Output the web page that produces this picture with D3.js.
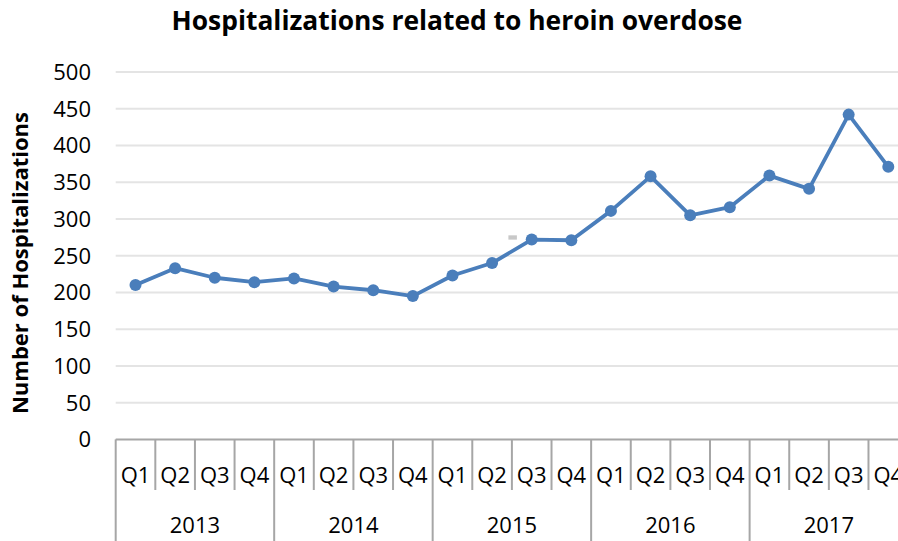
<!DOCTYPE html>
<html>
<head>
  <meta charset="utf-8">
  <title>Heroin overdose hospitalizations</title>
  <script src="https://cdn.jsdelivr.net/npm/d3@7"></script>
  <style>
    body { margin: 0; background: #fff; }
    svg { display: block; font-family: "Open Sans", "DejaVu Sans", sans-serif; }
    .title { font-size: 26.4px; font-weight: bold; fill: #000; }
    .ylabel { font-size: 22px; font-weight: bold; fill: #000; }
    .ytick { font-size: 22px; fill: #000; }
    .qlabel { font-size: 22px; fill: #000; }
    .yearlabel { font-size: 22px; fill: #000; }
    .grid line { stroke: #e4e4e4; stroke-width: 2; }
    .cat line { stroke: #a6a6a6; stroke-width: 2; }
  </style>
</head>
<body>
<script>
  var years = ["2013", "2014", "2015", "2016", "2017"];
  var quarters = ["Q1", "Q2", "Q3", "Q4"];
  var hospitalizations = [
    210, 233, 220, 214,
    219, 208, 203, 195,
    223, 240, 272, 271,
    311, 358, 305, 316,
    359, 341, 442, 371
  ];
  var yTicks = [0, 50, 100, 150, 200, 250, 300, 350, 400, 450, 500];

  var W = 898, H = 541;
  var plotLeft = 115.7, bandW = 39.62;
  var plotTop = 72, plotBottom = 439.4;

  var categories = [];
  years.forEach(function (yr) {
    quarters.forEach(function (q) { categories.push(yr + " " + q); });
  });

  var x = d3.scaleBand()
      .domain(categories)
      .range([plotLeft, plotLeft + bandW * categories.length]);

  var y = d3.scaleLinear()
      .domain([0, 500])
      .range([plotBottom, plotTop]);

  var svg = d3.select("body").append("svg")
      .attr("width", W)
      .attr("height", H);

  // gridlines
  svg.append("g").attr("class", "grid")
    .selectAll("line").data(yTicks.filter(function (d) { return d > 0; }))
    .enter().append("line")
      .attr("x1", plotLeft).attr("x2", W)
      .attr("y1", function (d) { return y(d); })
      .attr("y2", function (d) { return y(d); });

  // y tick labels
  svg.append("g")
    .selectAll("text").data(yTicks)
    .enter().append("text")
      .attr("class", "ytick")
      .attr("x", 91)
      .attr("y", function (d) { return y(d); })
      .attr("dy", "0.36em")
      .attr("text-anchor", "end")
      .text(function (d) { return d; });

  // category axis: baseline, quarter and year dividers
  var cat = svg.append("g").attr("class", "cat");
  cat.append("line")
      .attr("x1", plotLeft).attr("x2", W)
      .attr("y1", y(0)).attr("y2", y(0));

  cat.selectAll("line.qdiv").data(categories)
    .enter().append("line")
      .attr("class", "qdiv")
      .attr("x1", function (d) { return x(d); })
      .attr("x2", function (d) { return x(d); })
      .attr("y1", y(0))
      .attr("y2", function (d, i) { return i % 4 === 0 ? H : 490; });

  svg.append("g")
    .selectAll("text").data(categories)
    .enter().append("text")
      .attr("class", "qlabel")
      .attr("x", function (d) { return x(d) + x.bandwidth() / 2; })
      .attr("y", 475)
      .attr("dy", "0.36em")
      .attr("text-anchor", "middle")
      .text(function (d) { return d.split(" ")[1]; });

  svg.append("g")
    .selectAll("text").data(years)
    .enter().append("text")
      .attr("class", "yearlabel")
      .attr("x", function (d) { return x(d + " Q2") + x.bandwidth(); })
      .attr("y", 525)
      .attr("dy", "0.36em")
      .attr("text-anchor", "middle")
      .text(function (d) { return d; });

  // stray marker seen in the source image
  svg.append("rect")
      .attr("x", x("2015 Q3") - 3.5)
      .attr("y", y(275) - 2)
      .attr("width", 8.5)
      .attr("height", 4.3)
      .attr("fill", "#c8c8c8");

  // series
  var pts = categories.map(function (c, i) {
    return [x(c) + x.bandwidth() / 2, y(hospitalizations[i])];
  });

  svg.append("path")
      .attr("d", d3.line()(pts))
      .attr("fill", "none")
      .attr("stroke", "#4a7ebb")
      .attr("stroke-width", 3.8)
      .attr("stroke-linejoin", "round");

  svg.append("g")
    .selectAll("circle").data(pts)
    .enter().append("circle")
      .attr("cx", function (d) { return d[0]; })
      .attr("cy", function (d) { return d[1]; })
      .attr("r", 6)
      .attr("fill", "#4a7ebb");

  // titles
  svg.append("text")
      .attr("class", "title")
      .attr("x", 457)
      .attr("y", 20)
      .attr("dy", "0.36em")
      .attr("text-anchor", "middle")
      .text("Hospitalizations related to heroin overdose");

  svg.append("text")
      .attr("class", "ylabel")
      .attr("transform", "translate(20,263) rotate(-90)")
      .attr("dy", "0.36em")
      .attr("text-anchor", "middle")
      .text("Number of Hospitalizations");
</script>
</body>
</html>
